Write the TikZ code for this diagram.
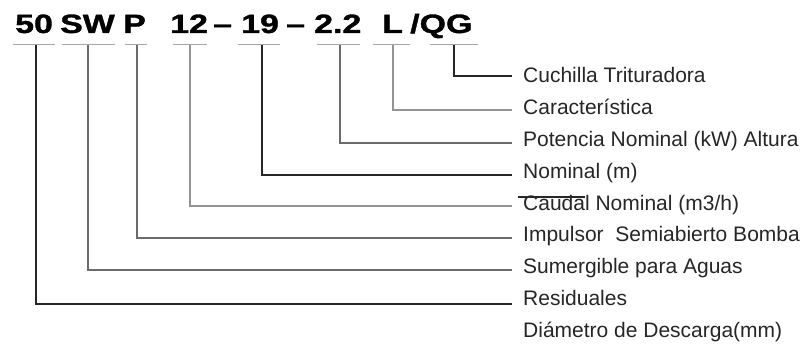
\documentclass[tikz,border=0pt]{standalone}
\usepackage{graphicx}
\usepackage{fontspec}
\setmainfont{Liberation Sans}
\newfontfamily\codefont[FakeBold=1.2]{Liberation Sans Bold}
\begin{document}
\begin{tikzpicture}[x=1pt,y=-1pt,
  code/.style={anchor=base west, inner sep=0pt, font=\fontsize{26.5}{26.5}\codefont, text=black},
  lbl/.style={anchor=base west, inner sep=0pt, font=\fontsize{21}{21}\selectfont, text=black!85},
  bar/.style={draw=black!35, line width=1pt},
  dk/.style={draw=black!85, line width=1.3pt},
  md/.style={draw=black!58, line width=1.2pt},
  lt/.style={draw=black!42, line width=1.1pt}]
\useasboundingbox (0,0) rectangle (807,345);
% code tokens
\node[code] (t50) at (15,33) {\scalebox{1.28}[1]{50}};
\node[code] (tSW) at (60,33) {\scalebox{1.28}[1]{SW}};
\node[code] (tP) at (123,33) {\scalebox{1.28}[1]{P}};
\node[code] (t12) at (170,33) {\scalebox{1.28}[1]{12}};
\node[code] (d1) at (213,33) {\scalebox{1.28}[1]{–}};
\node[code] (t19) at (241,33) {\scalebox{1.28}[1]{19}};
\node[code] (d2) at (286,33) {\scalebox{1.28}[1]{–}};
\node[code] (t22) at (314,33) {\scalebox{1.28}[1]{2.2}};
\node[code] (tL) at (382,33) {\scalebox{1.28}[1]{L}};
\node[code] (tQG) at (410,33) {\scalebox{1.28}[1]{/QG}};
% underbars
\coordinate (a1) at (13,45);  \coordinate (b1) at (55,45);
\coordinate (a2) at (62,45);  \coordinate (b2) at (115,45);
\coordinate (a3) at (125,45); \coordinate (b3) at (147,45);
\coordinate (a4) at (173,45); \coordinate (b4) at (207,45);
\coordinate (a5) at (238,45); \coordinate (b5) at (280,45);
\coordinate (a6) at (317,45); \coordinate (b6) at (360,45);
\coordinate (a7) at (373,45); \coordinate (b7) at (410,45);
\coordinate (a8) at (430,45); \coordinate (b8) at (478,45);
\foreach \i in {1,...,8} {\draw[bar] (a\i) -- (b\i);}
% connector starts
\coordinate (s50) at (36,45);
\coordinate (sSW) at (88,45);
\coordinate (sP) at (137,45);
\coordinate (s12) at (190,45);
\coordinate (s19) at (262,45);
\coordinate (s22) at (340,45);
\coordinate (sL) at (393,45);
\coordinate (sQG) at (454,45);
% connector ends
\coordinate (eQG) at (512,76);
\coordinate (eL) at (512,110);
\coordinate (e22) at (512,143);
\coordinate (e19) at (512,175);
\coordinate (e12) at (512,206);
\coordinate (eP) at (512,238);
\coordinate (eSW) at (512,270);
\coordinate (e50) at (512,304);
\draw[dk] (sQG) |- (eQG);
\draw[lt] (sL) |- (eL);
\draw[md] (s22) |- (e22);
\draw[dk] (s19) |- (e19);
\draw[lt] (s12) |- (e12);
\draw[md] (sP) |- (eP);
\draw[md] (sSW) |- (eSW);
\draw[dk] (s50) |- (e50);
% labels
\node[lbl] (l1) at (523,83) {Cuchilla Trituradora};
\node[lbl] (l2) at (523,114.75) {Característica};
\node[lbl] (l3) at (523,146.5) {Potencia Nominal (kW) Altura};
\node[lbl] (l4) at (523,178.25) {Nominal (m)};
\node[lbl] (l5) at (523,210) {Caudal Nominal (m3/h)};
\node[lbl] (l6) at (523,241.75) {Impulsor\ \ Semiabierto Bomba};
\node[lbl] (l7) at (523,273.5) {Sumergible para Aguas};
\node[lbl] (l8) at (523,305.25) {Residuales};
\node[lbl] (l9) at (523,337) {Diámetro de Descarga(mm)};
% stray overline on "Caudal"
\coordinate (o1) at (518,197);
\coordinate (o2) at (585,197);
\draw[dk, line width=1.1pt] (o1) -- (o2);
\end{tikzpicture}
\end{document}
